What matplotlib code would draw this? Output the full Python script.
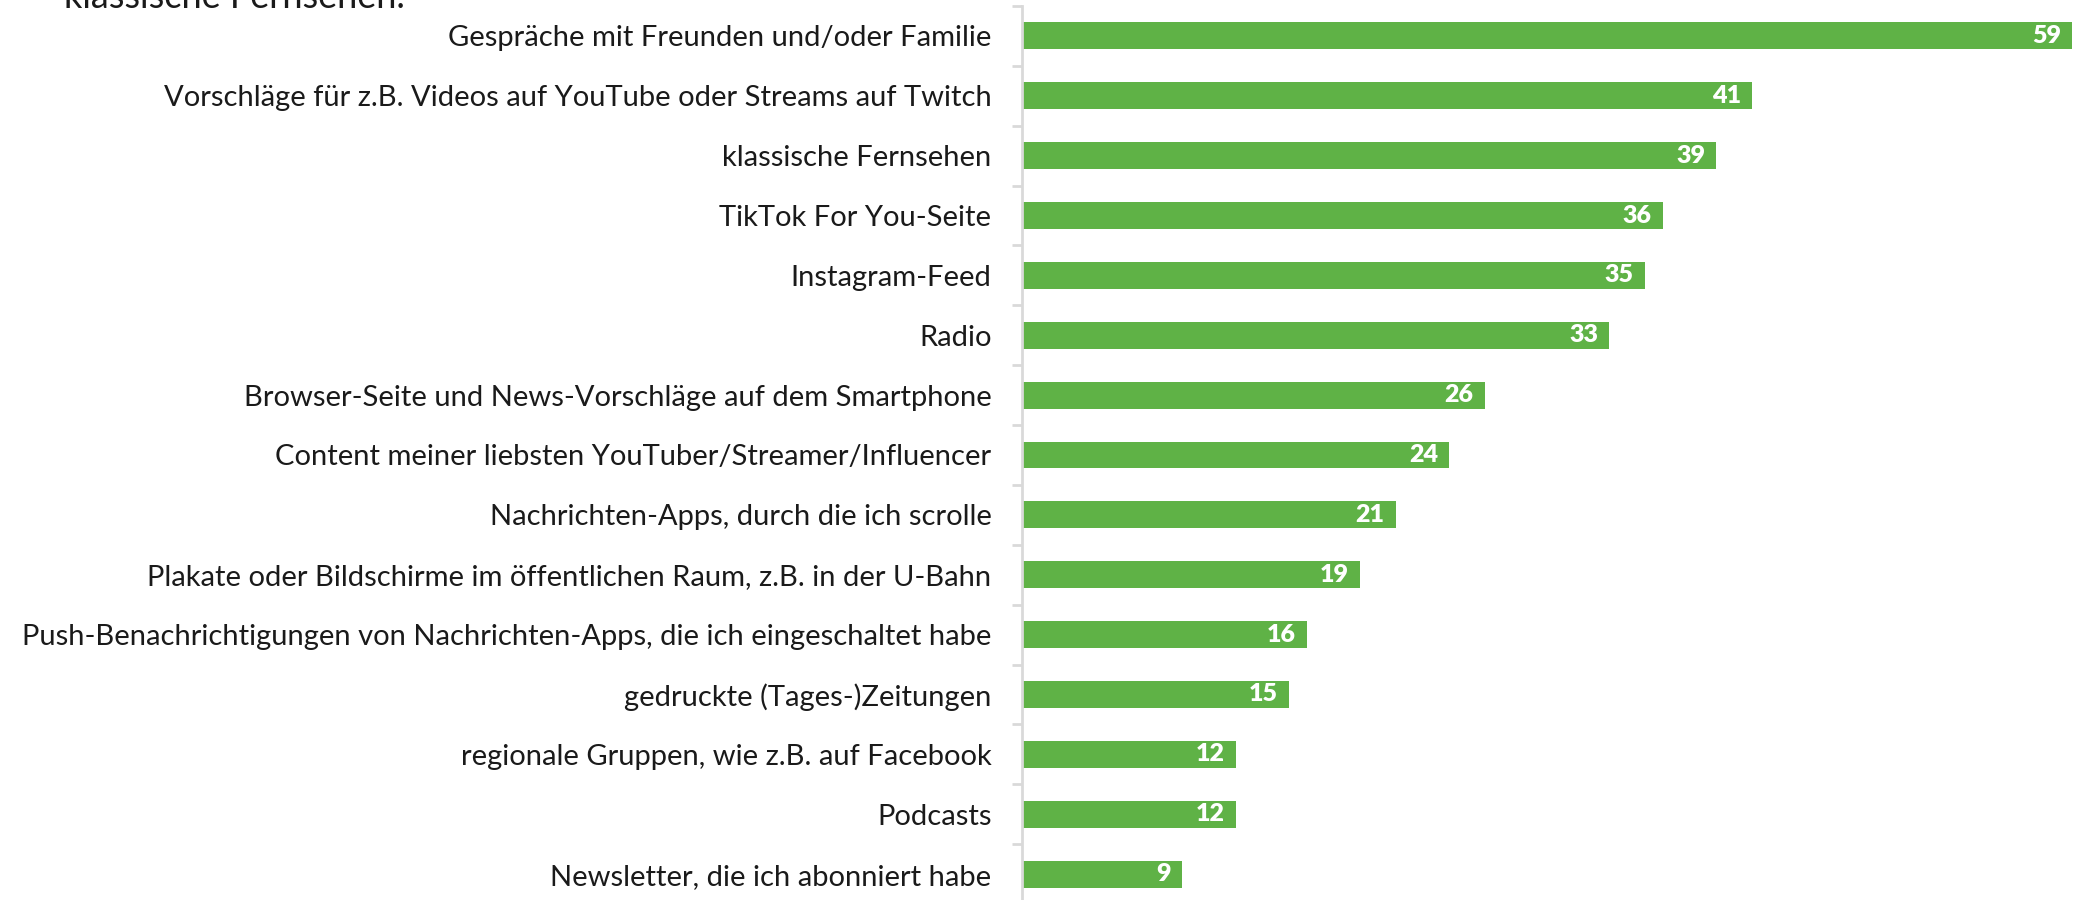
import matplotlib.pyplot as plt

# Anteile in Prozent, von oben nach unten
categories = [
    'Gespräche mit Freunden und/oder Familie',
    'Vorschläge für z.B. Videos auf YouTube oder Streams auf Twitch',
    'klassische Fernsehen',
    'TikTok For You-Seite',
    'Instagram-Feed',
    'Radio',
    'Browser-Seite und News-Vorschläge auf dem Smartphone',
    'Content meiner liebsten YouTuber/Streamer/Influencer',
    'Nachrichten-Apps, durch die ich scrolle',
    'Plakate oder Bildschirme im öffentlichen Raum, z.B. in der U-Bahn',
    'Push-Benachrichtigungen von Nachrichten-Apps, die ich eingeschaltet habe',
    'gedruckte (Tages-)Zeitungen',
    'regionale Gruppen, wie z.B. auf Facebook',
    'Podcasts',
    'Newsletter, die ich abonniert habe',
]
values = [59, 41, 39, 36, 35, 33, 26, 24, 21, 19, 16, 15, 12, 12, 9]
title_text = 'klassische Fernsehen.'

plt.rcParams['font.family'] = ['Lato', 'DejaVu Sans']

fig = plt.figure(figsize=(20.74, 9), dpi=100)
ax = fig.add_axes([1022 / 2074, -4 / 900, 1 - 1022 / 2074, 898 / 900])

green = '#5fb246'
ypos = list(range(len(values)))
ax.barh(ypos, values, height=0.45, color=green, zorder=2)

for y, v in zip(ypos, values):
    ax.annotate(str(v), xy=(v, y), xytext=(-8, 0), textcoords='offset points',
                ha='right', va='center', color='white', fontsize=18,
                fontweight='heavy')

ax.set_xlim(0, 59.1)
ax.set_ylim(len(values) - 0.5, -0.5)

ax.set_yticks(ypos)
ax.set_yticklabels(categories, fontsize=21, color='#1a1a1a')
ax.tick_params(axis='y', which='major', length=0, pad=22)
ax.set_yticks([i - 0.5 for i in range(len(values) + 1)], minor=True)
ax.tick_params(axis='y', which='minor', length=7, width=2, color='#d9d9d9')
ax.set_xticks([])

for s in ['top', 'right', 'bottom']:
    ax.spines[s].set_visible(False)
ax.spines['left'].set_color('#d9d9d9')
ax.spines['left'].set_linewidth(2)

# abgeschnittener Titel oben links
fig.text(64 / 2074, 1 - 8 / 900, title_text, fontsize=26, color='#1a1a1a',
         va='baseline', ha='left')

fig.savefig('out.png', dpi=100)
